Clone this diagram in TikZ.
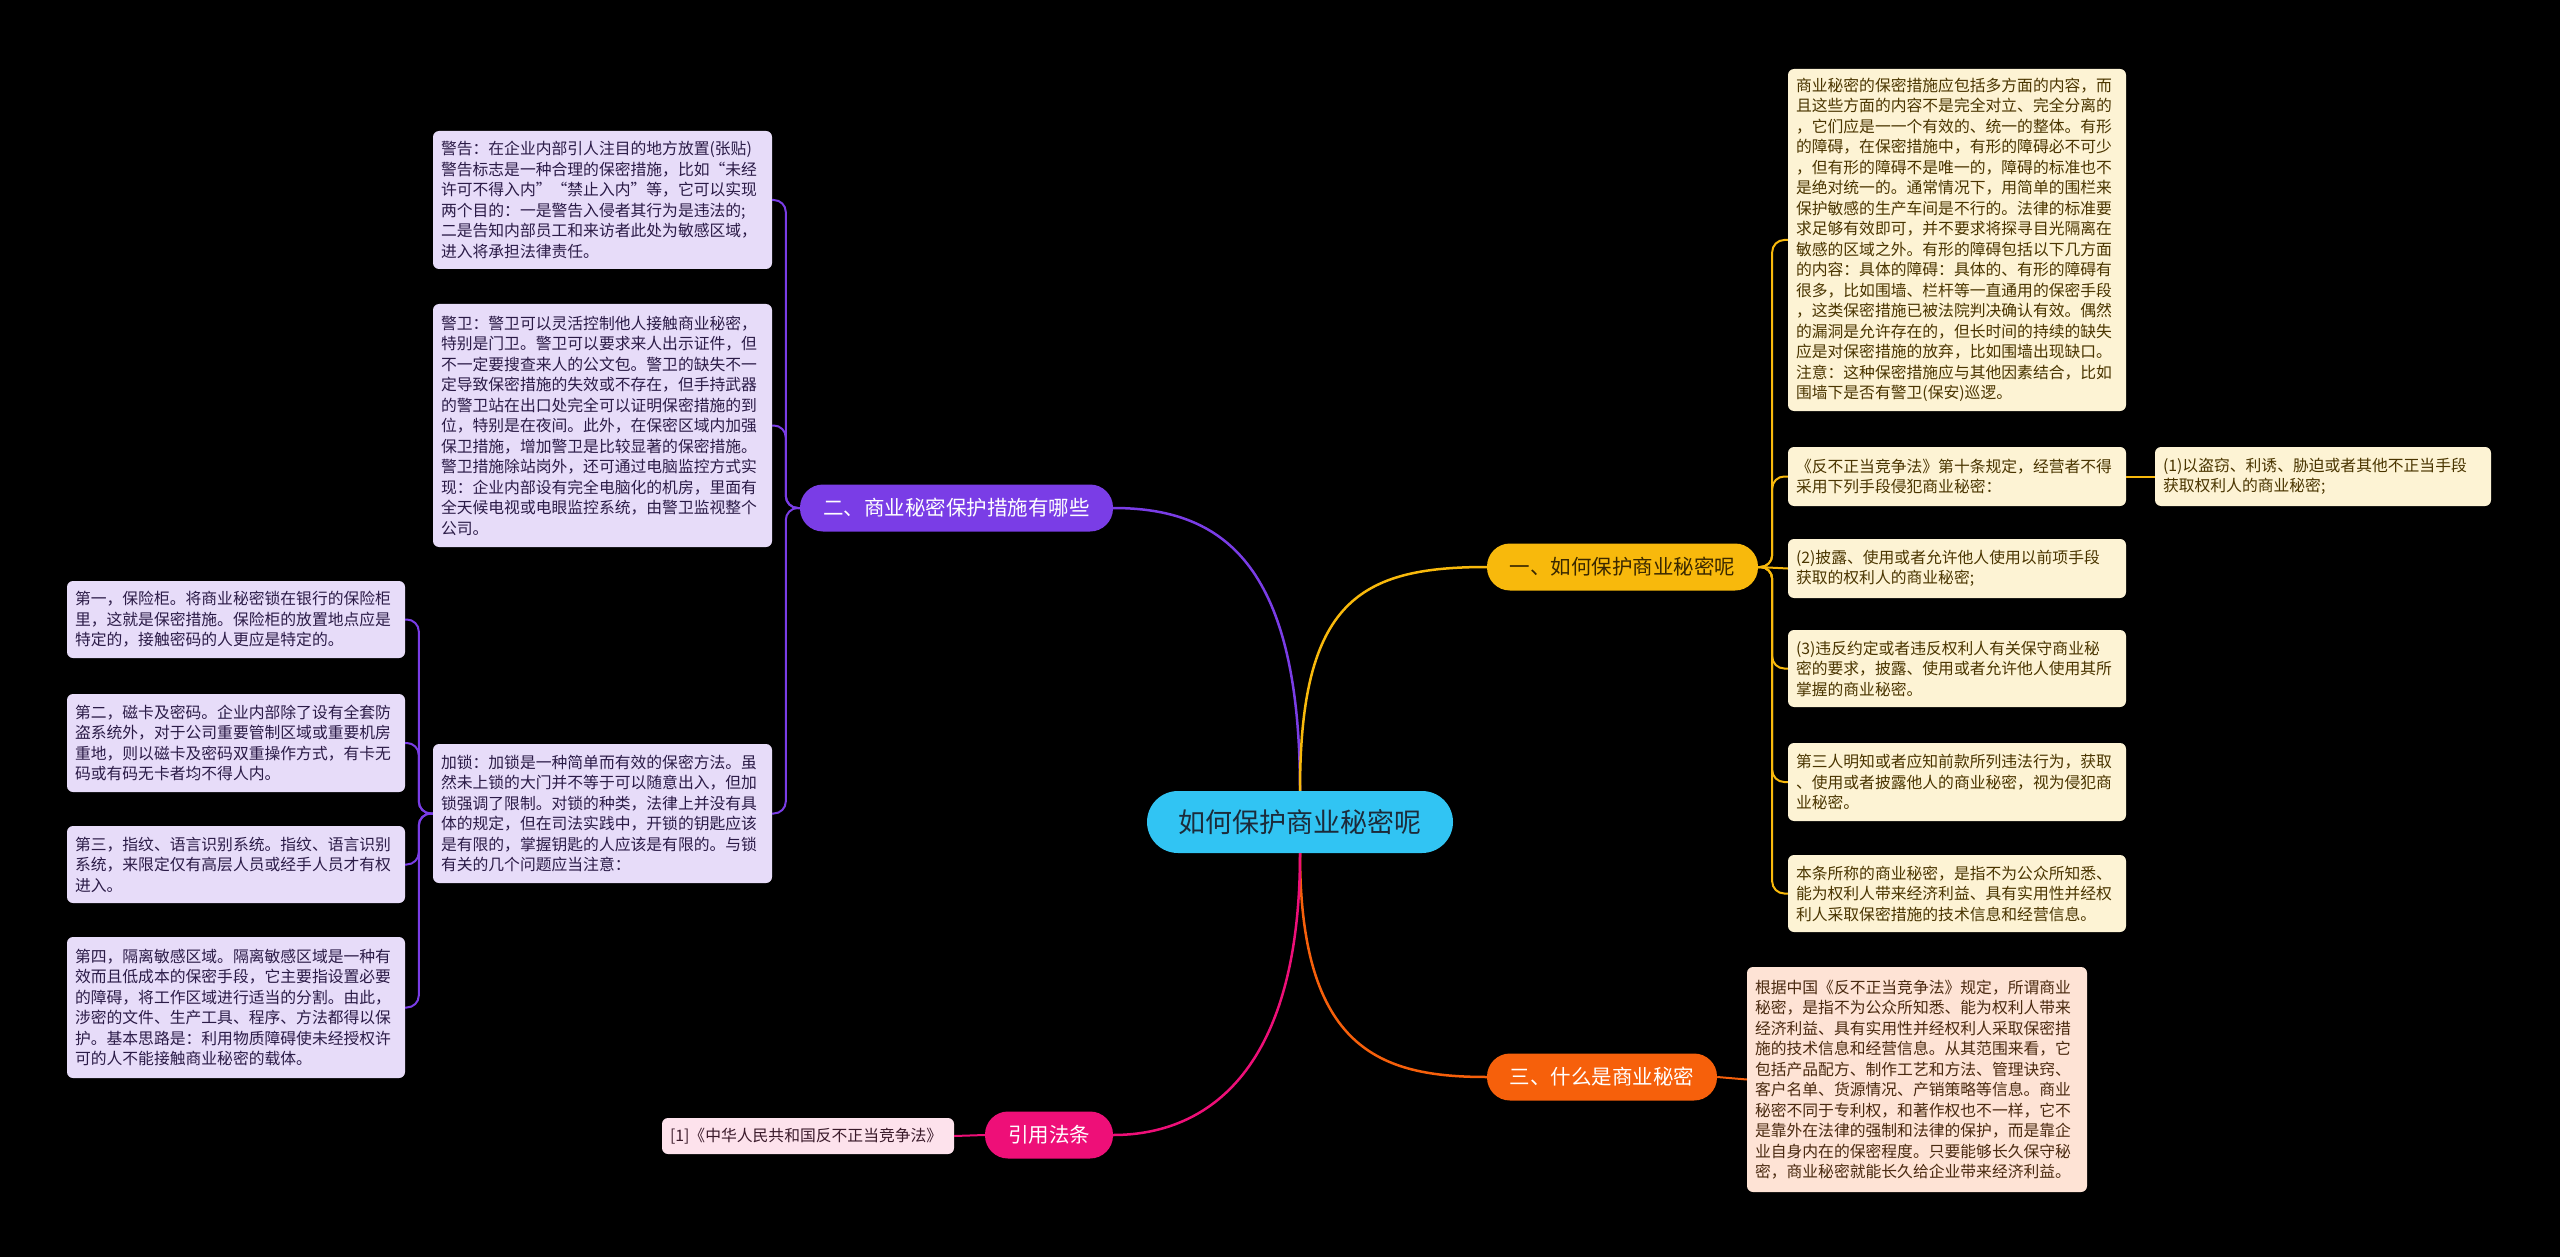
\documentclass[tikz,border=0pt]{standalone}
\usepackage{fontspec}
\newfontfamily\cjk{Noto Sans CJK SC}
\definecolor{lavbg}{HTML}{E7DCF9}
\definecolor{lavtx}{HTML}{2B1B47}
\definecolor{crmbg}{HTML}{FDF3D4}
\definecolor{crmtx}{HTML}{4A3500}
\definecolor{pchbg}{HTML}{FEE3D5}
\definecolor{pchtx}{HTML}{4A2A10}
\definecolor{pnkbg}{HTML}{FDE2EC}
\definecolor{pnktx}{HTML}{3A1A2A}
\definecolor{cenbg}{HTML}{31C4F3}
\definecolor{centx}{HTML}{1C2B3A}
\definecolor{purp}{HTML}{7A3DE6}
\definecolor{yell}{HTML}{F8B90C}
\definecolor{oran}{HTML}{F6600B}
\definecolor{pink}{HTML}{EE0F78}
\definecolor{yelltx}{HTML}{3A2800}
\newcommand\leafbox[7]{%
  \pgfmathsetmacro\lbw{#5-#3}%
  \pgfmathsetmacro\lbh{#6-#4}%
  \pgfmathsetmacro\lbx{(#3+#5)/2}%
  \pgfmathsetmacro\lby{(#4+#6)/2}%
  \pgfmathsetmacro\lbt{#5-#3-16}%
  \node[#1, minimum width=\lbw pt, minimum height=\lbh pt, text width=\lbt pt] (#2) at (\lbx,\lby) {#7};%
}
\begin{document}
\begin{tikzpicture}[x=1pt,y=-1pt,
  leafbase/.style={rectangle, rounded corners=6pt, inner sep=0pt, align=left, font=\cjk\fontsize{15.8}{20.5}\selectfont},
  lav/.style={leafbase, fill=lavbg, text=lavtx},
  crm/.style={leafbase, fill=crmbg, text=crmtx},
  pch/.style={leafbase, fill=pchbg, text=pchtx},
  pnk/.style={leafbase, fill=pnkbg, text=pnktx},
  mainnode/.style={rectangle, rounded corners=23pt, minimum height=47pt, inner sep=0pt, font=\cjk\fontsize{20.5}{24}\selectfont},
  bigline/.style={line width=2.5pt},
  leafline/.style={line width=2pt, rounded corners=12pt}
]
\fill[black] (0,0) rectangle (2560,1257);
\useasboundingbox (0,0) rectangle (2560,1257);

% center and main branches
\node[rectangle, rounded corners=31pt, minimum width=306pt, minimum height=62pt, inner sep=0pt, fill=cenbg, text=centx, font=\cjk\fontsize{27}{30}\selectfont] (c) at (1300,822) {如何保护商业秘密呢};
\node[mainnode, fill=purp, text=white, minimum width=313pt] (b2) at (956.5,508) {二、商业秘密保护措施有哪些};
\node[mainnode, fill=yell, text=yelltx, minimum width=271pt] (b1) at (1622.5,567) {一、如何保护商业秘密呢};
\node[mainnode, fill=oran, text=white, minimum width=230pt] (b3) at (1602,1077) {三、什么是商业秘密};
\node[mainnode, fill=pink, text=white, minimum width=128pt] (b4) at (1049,1135) {引用法条};

% left (purple) leaves
\leafbox{lav}{w1}{433}{131}{772}{269}{警告：在企业内部引人注目的地方放置(张贴)\\警告标志是一种合理的保密措施，比如“未经\\许可不得入内”“禁止入内”等，它可以实现\\两个目的：一是警告入侵者其行为是违法的;\\二是告知内部员工和来访者此处为敏感区域，\\进入将承担法律责任。}
\leafbox{lav}{w2}{433}{304}{772}{547}{警卫：警卫可以灵活控制他人接触商业秘密，\\特别是门卫。警卫可以要求来人出示证件，但\\不一定要搜查来人的公文包。警卫的缺失不一\\定导致保密措施的失效或不存在，但手持武器\\的警卫站在出口处完全可以证明保密措施的到\\位，特别是在夜间。此外，在保密区域内加强\\保卫措施，增加警卫是比较显著的保密措施。\\警卫措施除站岗外，还可通过电脑监控方式实\\现：企业内部设有完全电脑化的机房，里面有\\全天候电视或电眼监控系统，由警卫监视整个\\公司。}
\leafbox{lav}{w3}{433}{744}{772}{883}{加锁：加锁是一种简单而有效的保密方法。虽\\然未上锁的大门并不等于可以随意出入，但加\\锁强调了限制。对锁的种类，法律上并没有具\\体的规定，但在司法实践中，开锁的钥匙应该\\是有限的，掌握钥匙的人应该是有限的。与锁\\有关的几个问题应当注意：}
\leafbox{lav}{v1}{67}{581}{405}{658}{第一，保险柜。将商业秘密锁在银行的保险柜\\里，这就是保密措施。保险柜的放置地点应是\\特定的，接触密码的人更应是特定的。}
\leafbox{lav}{v2}{67}{694}{405}{792}{第二，磁卡及密码。企业内部除了设有全套防\\盗系统外，对于公司重要管制区域或重要机房\\重地，则以磁卡及密码双重操作方式，有卡无\\码或有码无卡者均不得人内。}
\leafbox{lav}{v3}{67}{826}{405}{903}{第三，指纹、语言识别系统。指纹、语言识别\\系统，来限定仅有高层人员或经手人员才有权\\进入。}
\leafbox{lav}{v4}{67}{937}{405}{1078}{第四，隔离敏感区域。隔离敏感区域是一种有\\效而且低成本的保密手段，它主要指设置必要\\的障碍，将工作区域进行适当的分割。由此，\\涉密的文件、生产工具、程序、方法都得以保\\护。基本思路是：利用物质障碍使未经授权许\\可的人不能接触商业秘密的载体。}

% right (yellow) leaves
\leafbox{crm}{r1}{1788}{69}{2126}{411}{商业秘密的保密措施应包括多方面的内容，而\\且这些方面的内容不是完全对立、完全分离的\\，它们应是一一个有效的、统一的整体。有形\\的障碍，在保密措施中，有形的障碍必不可少\\，但有形的障碍不是唯一的，障碍的标准也不\\是绝对统一的。通常情况下，用简单的围栏来\\保护敏感的生产车间是不行的。法律的标准要\\求足够有效即可，并不要求将探寻目光隔离在\\敏感的区域之外。有形的障碍包括以下几方面\\的内容：具体的障碍：具体的、有形的障碍有\\很多，比如围墙、栏杆等一直通用的保密手段\\，这类保密措施已被法院判决确认有效。偶然\\的漏洞是允许存在的，但长时间的持续的缺失\\应是对保密措施的放弃，比如围墙出现缺口。\\注意：这种保密措施应与其他因素结合，比如\\围墙下是否有警卫(保安)巡逻。}
\leafbox{crm}{r2}{1788}{447}{2126}{506}{《反不正当竞争法》第十条规定，经营者不得\\采用下列手段侵犯商业秘密：}
\leafbox{crm}{r2b}{2155}{447}{2491}{506}{(1)以盗窃、利诱、胁迫或者其他不正当手段\\获取权利人的商业秘密;}
\leafbox{crm}{r3}{1788}{539}{2126}{598}{(2)披露、使用或者允许他人使用以前项手段\\获取的权利人的商业秘密;}
\leafbox{crm}{r4}{1788}{630}{2126}{707}{(3)违反约定或者违反权利人有关保守商业秘\\密的要求，披露、使用或者允许他人使用其所\\掌握的商业秘密。}
\leafbox{crm}{r5}{1788}{743}{2126}{821}{第三人明知或者应知前款所列违法行为，获取\\、使用或者披露他人的商业秘密，视为侵犯商\\业秘密。}
\leafbox{crm}{r6}{1788}{855}{2126}{932}{本条所称的商业秘密，是指不为公众所知悉、\\能为权利人带来经济利益、具有实用性并经权\\利人采取保密措施的技术信息和经营信息。}

% orange leaf
\leafbox{pch}{g1}{1747}{967}{2087}{1192}{根据中国《反不正当竞争法》规定，所谓商业\\秘密，是指不为公众所知悉、能为权利人带来\\经济利益、具有实用性并经权利人采取保密措\\施的技术信息和经营信息。从其范围来看，它\\包括产品配方、制作工艺和方法、管理诀窍、\\客户名单、货源情况、产销策略等信息。商业\\秘密不同于专利权，和著作权也不一样，它不\\是靠外在法律的强制和法律的保护，而是靠企\\业自身内在的保密程度。只要能够长久保守秘\\密，商业秘密就能长久给企业带来经济利益。}

% pink leaf
\leafbox{pnk}{ref}{662}{1118}{954}{1154}{[1]《中华人民共和国反不正当竞争法》}

% main connectors
\draw[bigline, purp] (c.north) .. controls +(0,-230) and +(107,0) .. (b2.east);
\draw[bigline, yell] (c.north) .. controls +(0,-190) and +(-127,0) .. (b1.west);
\draw[bigline, oran] (c.south) .. controls +(0,196) and +(-107,0) .. (b3.west);
\draw[bigline, pink] (c.south) .. controls +(0,226) and +(87,0) .. (b4.east);

% purple leaf connectors
\draw[leafline, purp] (b2.west) -- ++(-14,0) |- (w1.east);
\draw[leafline, purp] (b2.west) -- ++(-14,0) |- (w2.east);
\draw[leafline, purp] (b2.west) -- ++(-14,0) |- (w3.east);
\draw[leafline, purp] (w3.west) -- ++(-14,0) |- (v1.east);
\draw[leafline, purp] (w3.west) -- ++(-14,0) |- (v2.east);
\draw[leafline, purp] (w3.west) -- ++(-14,0) |- (v3.east);
\draw[leafline, purp] (w3.west) -- ++(-14,0) |- (v4.east);

% yellow leaf connectors
\draw[leafline, yell] (b1.east) -- ++(14,0) |- (r1.west);
\draw[leafline, yell] (b1.east) -- ++(14,0) |- (r2.west);
\draw[line width=2pt, yell] (b1.east) -- (r3.west);
\draw[leafline, yell] (b1.east) -- ++(14,0) |- (r4.west);
\draw[leafline, yell] (b1.east) -- ++(14,0) |- (r5.west);
\draw[leafline, yell] (b1.east) -- ++(14,0) |- (r6.west);
\draw[line width=2pt, yell] (r2.east) -- (r2b.west);

% orange and pink leaf connectors
\draw[line width=2pt, oran] (b3.east) -- (g1.west);
\draw[line width=2pt, pink] (b4.west) -- (ref.east);
\end{tikzpicture}
\end{document}
